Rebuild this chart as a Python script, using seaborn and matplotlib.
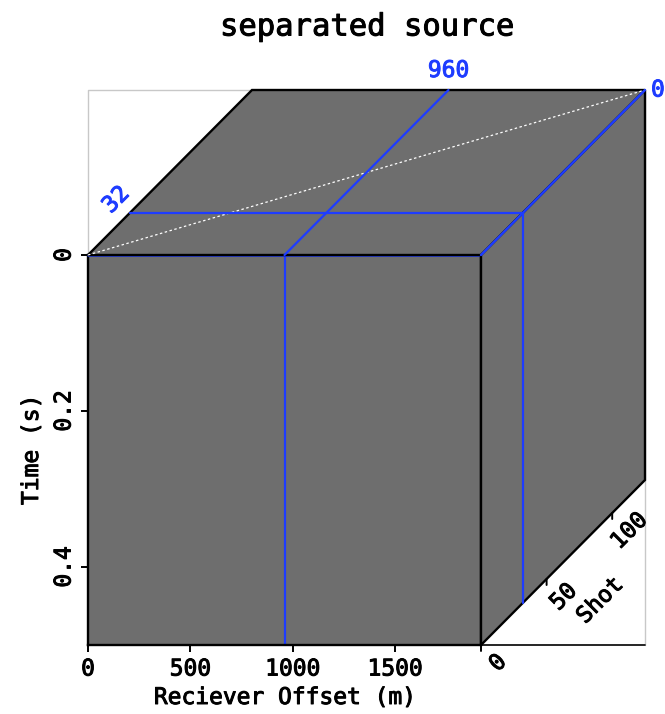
import numpy as np
import matplotlib
matplotlib.use("Agg")
import matplotlib.pyplot as plt
import matplotlib.transforms as mtransforms
import matplotlib.patheffects as pe
from matplotlib.patches import Polygon
from matplotlib.colors import ListedColormap
import seaborn as sns
import pandas as pd

# ---------------- data ----------------
title = "separated source"
offset_range = [0, 1920]          # receiver offset (m)
time_range = [0.0, 0.5]           # time (s)
shot_range = [0, 125]             # shot index
offset_ticks = [0, 500, 1000, 1500]
time_ticks = [0, 0.2, 0.4]
time_ticklabels = ["0", "0.2", "0.4"]
shot_ticks = [0, 50, 100]
slice_offset = 960
slice_shot = 32
slice_time = 0
cube_value = 0.0                  # the cube is all zero amplitude

# ---------------- style ----------------
sns.set_theme(style="white", rc={"text.color": "black", "axes.labelcolor": "black",
                                 "xtick.color": "black", "ytick.color": "black"})
plt.rcParams["font.family"] = ["DejaVu Sans Mono", "DejaVu Sans"]
GRAY = "#6e6e6e"
BLUE = "#1e3cff"
FS = 16.5


def heavy(t, color="black"):
    t.set_path_effects([pe.withStroke(linewidth=0.7, foreground=color)])
    return t


W, H = 665, 714
fig = plt.figure(figsize=(W / 100, H / 100), dpi=100)

# layout (pixels)
X0, XR, YT, YB = 88, 481, 255, 645
DX, DY = 164, -165

# ---------- front face: offset x time ----------
ax = fig.add_axes([X0 / W, 1 - YB / H, (XR - X0) / W, (YB - YT) / H])
img = np.full((2, 2), cube_value)
ax.imshow(img, cmap=ListedColormap([GRAY]), vmin=-1, vmax=1,
          extent=[offset_range[0], offset_range[1], time_range[1], time_range[0]],
          aspect="auto", interpolation="nearest")
ax.set_facecolor(GRAY)

front_lines = pd.DataFrame({
    "offset": [slice_offset, slice_offset],
    "time": [time_range[0], time_range[1]],
})
sns.lineplot(data=front_lines, x="offset", y="time", color=BLUE, lw=1.6, ax=ax,
             sort=False, estimator=None)
ax.plot(offset_range, [slice_time, slice_time], color=BLUE, lw=1.8, clip_on=False, zorder=5)

ax.set_xlim(offset_range)
ax.set_ylim(time_range[1], time_range[0])
for s in ax.spines.values():
    s.set_color("black")
    s.set_linewidth(1.7)
ax.set_xticks(offset_ticks)
ax.set_xticklabels([str(t) for t in offset_ticks])
ax.set_yticks(time_ticks)
ax.set_yticklabels(time_ticklabels, rotation=90, va="center")
ax.tick_params(axis="both", direction="out", length=5, width=1.4, color="black",
               labelsize=FS, labelcolor="black", pad=4, bottom=True, left=True)
ax.set_xlabel("Reciever Offset (m)", fontsize=FS, color="black")
ax.set_ylabel("Time (s)", fontsize=FS, color="black")
ax.xaxis.set_label_coords(0.5, -(686 - YB) / (YB - YT))
ax.yaxis.set_label_coords(-(88 - 43) / (XR - X0), 0.5)
ax.xaxis.label.set_va("top")
heavy(ax.xaxis.label)
heavy(ax.yaxis.label)
for lab in ax.get_xticklabels() + ax.get_yticklabels():
    heavy(lab)

# ---------- overlay for oblique faces ----------
ov = fig.add_axes([0, 0, 1, 1], zorder=3)
ov.set_xlim(0, W)
ov.set_ylim(H, 0)
ov.axis("off")
ov.patch.set_alpha(0)

ns = shot_range[1] - shot_range[0]
no = offset_range[1] - offset_range[0]
nt = time_range[1] - time_range[0]
# top face: (offset, shot) -> pixels
top_tr = mtransforms.Affine2D.from_values((XR - X0) / no, 0, DX / ns, DY / ns, X0, YT) + ov.transData
# side face: (shot, time) -> pixels
side_tr = mtransforms.Affine2D.from_values(DX / ns, DY / ns, 0, (YB - YT) / nt, XR, YT) + ov.transData

# outer frame
o0, o1 = offset_range
s0, s1 = shot_range
t0, t1 = time_range
frame_c = "#c8c8c8"
ov.plot([X0, X0, XR + DX, XR + DX], [YT, YT + DY, YT + DY, YB], color=frame_c, lw=1.0, zorder=1)
ov.plot([XR, XR + DX], [YB, YB], color="black", lw=1.2, zorder=1)

top_poly = Polygon([[o0, s0], [o1, s0], [o1, s1], [o0, s1]], closed=True,
                   facecolor=GRAY, edgecolor="black", lw=1.7, transform=top_tr, zorder=2)
side_poly = Polygon([[s0, t0], [s1, t0], [s1, t1], [s0, t1]], closed=True,
                    facecolor=GRAY, edgecolor="black", lw=1.7, transform=side_tr, zorder=2)
ov.add_patch(top_poly)
ov.add_patch(side_poly)

# white dotted diagonal on top face
ov.plot([o0, o1], [s0, s1], color="white", lw=0.9, ls=(0, (2, 2)), transform=top_tr, zorder=3)

# slice lines
ov.plot([slice_offset, slice_offset], [s0, s1], color=BLUE, lw=1.6, transform=top_tr, zorder=4)
ov.plot([o0, o1], [slice_shot, slice_shot], color=BLUE, lw=1.6, transform=top_tr, zorder=4)
ov.plot([slice_shot, slice_shot], [t0, t1], color=BLUE, lw=1.6, transform=side_tr, zorder=4)
ov.plot([s0, s1], [slice_time, slice_time], color=BLUE, lw=1.8, transform=side_tr, zorder=4)

# slice labels
heavy(ov.annotate(str(slice_offset), xy=(slice_offset, s1), xycoords=top_tr,
                  xytext=(0, 8), textcoords="offset pixels", ha="center", va="bottom",
                  color=BLUE, fontsize=FS), BLUE)
heavy(ov.annotate(str(slice_shot), xy=(o0, slice_shot), xycoords=top_tr,
                  xytext=(-14, 13), textcoords="offset pixels", ha="center", va="center",
                  rotation=45, rotation_mode="anchor", color=BLUE, fontsize=FS), BLUE)
heavy(ov.annotate(str(slice_time), xy=(s1, slice_time), xycoords=side_tr,
                  xytext=(6, 0), textcoords="offset pixels", ha="left", va="center",
                  color=BLUE, fontsize=FS, annotation_clip=False), BLUE)

# shot axis ticks / labels
for st in shot_ticks:
    ov.annotate("", xy=(st, t1), xycoords=side_tr, xytext=(0, -6), textcoords="offset pixels",
                arrowprops=dict(arrowstyle="-", lw=1.4, color="black", shrinkA=0, shrinkB=0))
    heavy(ov.annotate(str(st), xy=(st, t1), xycoords=side_tr, xytext=(17, -18),
                      textcoords="offset pixels", ha="center", va="center", rotation=45,
                      rotation_mode="anchor", fontsize=FS, color="black"))
heavy(ov.annotate("Shot", xy=((s0 + s1) / 2, t1), xycoords=side_tr, xytext=(37, -38),
                  textcoords="offset pixels", ha="center", va="center", rotation=45,
                  rotation_mode="anchor", fontsize=FS, color="black"))

heavy(fig.text(367 / W, 1 - 27 / H, title, ha="center", va="center", fontsize=22, color="black"))

fig.savefig("out.png", dpi=100)
